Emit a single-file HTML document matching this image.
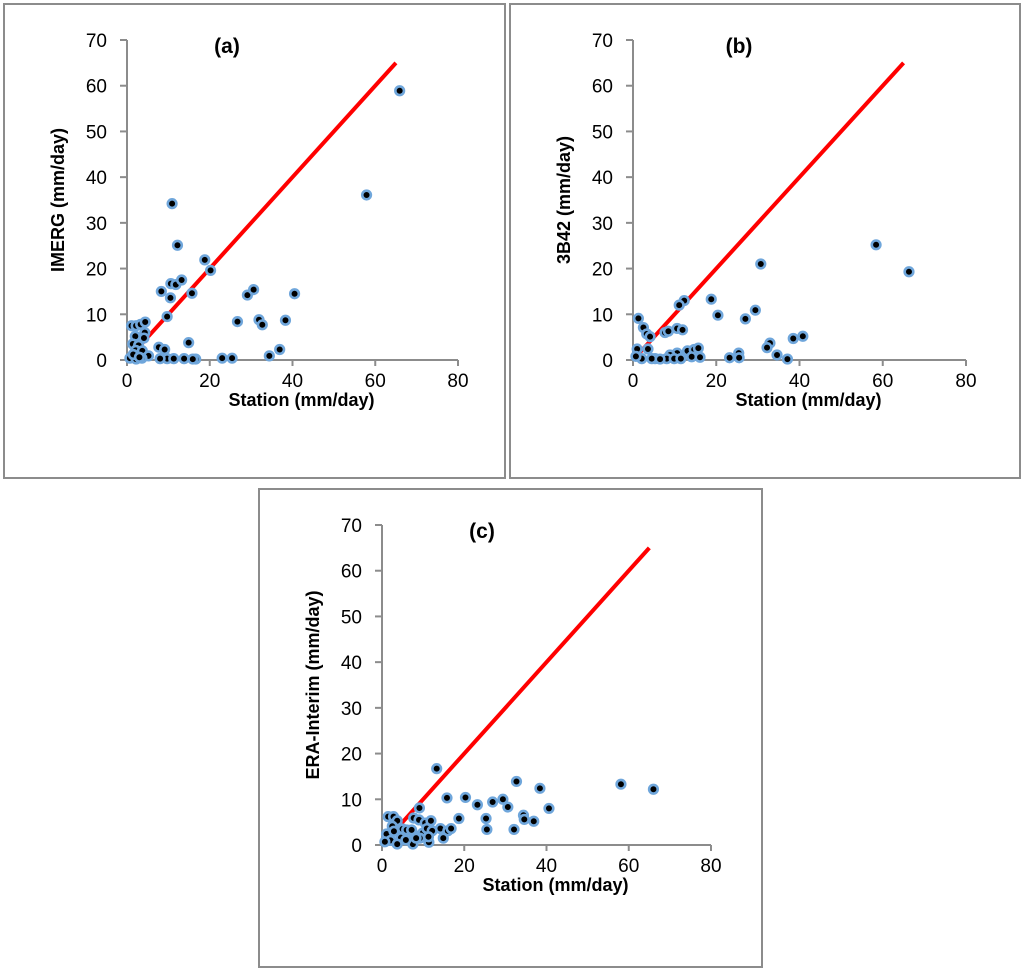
<!DOCTYPE html>
<html><head><meta charset="utf-8">
<style>
html,body{margin:0;padding:0;background:#fff;}
body{width:1024px;height:972px;overflow:hidden;font-family:"Liberation Sans",sans-serif;}
svg text{font-family:"Liberation Sans",sans-serif;}
</style></head>
<body>
<svg id="chart" width="1024" height="972" xmlns="http://www.w3.org/2000/svg"></svg>
<script>
// ---- data ----
const xTicks = [0, 20, 40, 60, 80];
const yTicks = [0, 10, 20, 30, 40, 50, 60, 70];
const lineStart = [1, 1];
const lineEnd = [65, 65];

const aStation = [65.9,57.9,10.9,12.2,18.8,20.2,8.3,10.6,11.8,13.2,10.5,15.7,9.7,29.1,30.6,40.5,26.7,31.9,32.7,38.3,36.9,34.4,14.9,7.7,9.1,23.0,25.4,9.7,11.3,13.8,16.6,15.9,8.0,1.1,2.2,3.3,4.4,2.0,4.3,4.1,1.4,2.8,2.1,3.7,5.2,0.7,2.2,3.6,1.5,3.0];
const aImerg   = [58.9,36.1,34.2,25.1,21.9,19.6,15.0,16.7,16.5,17.5,13.6,14.6,9.5,14.2,15.4,14.5,8.4,8.8,7.7,8.7,2.3,0.9,3.8,2.8,2.3,0.4,0.4,0.3,0.3,0.3,0.2,0.2,0.3,7.5,7.5,7.8,8.3,5.2,6.0,4.8,3.5,3.2,2.1,2.0,0.9,0.4,0.2,0.4,1.2,0.6];

const bStation = [58.4,66.3,30.7,18.8,12.3,11.1,20.4,29.4,27.0,1.3,2.5,3.3,4.1,7.7,8.5,10.6,11.9,32.9,32.2,38.5,40.8,34.6,37.1,23.2,25.4,25.5,1.0,3.6,13.1,14.7,15.7,10.6,8.9,14.1,16.1,5.3,8.1,9.9,11.5,2.1,0.7,4.5,6.5];
const b3B42    = [25.2,19.3,21.0,13.3,13.0,12.0,9.8,10.9,9.0,9.1,7.1,5.7,5.1,6.0,6.3,6.9,6.6,3.7,2.7,4.7,5.2,1.1,0.2,0.5,1.5,0.5,2.4,2.4,2.0,2.3,2.6,1.5,1.1,0.7,0.6,0.3,0.3,0.3,0.3,0.3,0.8,0.3,0.2];

const cStation = [58.1,66.0,13.3,32.7,38.4,15.8,20.3,23.2,26.9,29.4,30.6,40.6,9.1,18.7,25.3,34.4,34.6,36.9,32.1,25.5,14.2,16.0,16.8,14.9,7.7,9.0,10.5,11.9,11.4,7.5,1.5,2.8,3.7,2.5,5.0,6.0,1.1,2.9,2.1,4.6,5.8,7.9,9.9,10.9,12.2,9.2,11.3,8.3,0.7,3.7,7.2];
const cEra     = [13.3,12.2,16.7,13.9,12.4,10.3,10.4,8.8,9.4,10.0,8.3,8.0,8.1,5.8,5.8,6.5,5.6,5.2,3.4,3.4,3.6,3.1,3.6,1.5,5.9,5.5,4.8,5.3,0.6,0.2,6.2,6.2,5.3,4.1,3.5,3.3,2.4,3.0,1.0,1.6,1.1,2.1,2.6,3.6,3.1,1.5,1.8,1.5,0.7,0.2,3.3];

// ---- drawing ----
const NS = "http://www.w3.org/2000/svg";
const svg = document.getElementById('chart');
function mk(tag, attrs, parent) {
  const e = document.createElementNS(NS, tag);
  for (const k in attrs) e.setAttribute(k, attrs[k]);
  (parent || svg).appendChild(e);
  return e;
}

function panel(cfg, xs, ys) {
  const g = mk('g', {});
  
  
  const box = mk('rect', {x: cfg.box[0], y: cfg.box[1], width: cfg.box[2], height: cfg.box[3], fill: '#fff', stroke: '#8c8c8c', 'stroke-width': 2}, g);
  
  
  const sx = v => cfg.x0 + (v - 0) / 80 * (cfg.x80 - cfg.x0);
  const sy = v => cfg.y0 - v / 70 * (cfg.y0 - cfg.y70);
  const ax = mk('line', {x1: cfg.x0, y1: cfg.y0, x2: cfg.x80, y2: cfg.y0, stroke: '#8c8c8c', 'stroke-width': 2}, g);
  
  
  const ay = mk('line', {x1: cfg.x0, y1: cfg.y0, x2: cfg.x0, y2: cfg.y70, stroke: '#8c8c8c', 'stroke-width': 2}, g);
  
  
  xTicks.forEach(t => {
    mk('line', {x1: sx(t), y1: cfg.y0, x2: sx(t), y2: cfg.y0 + 6, stroke: '#8c8c8c', 'stroke-width': 2}, g);
    const tx = mk('text', {x: sx(t), y: cfg.y0 + 27, 'font-size': 19, 'text-anchor': 'middle', fill: '#000'}, g);
    tx.textContent = t;
    
    
  });
  yTicks.forEach(t => {
    mk('line', {x1: cfg.x0 - 7, y1: sy(t), x2: cfg.x0, y2: sy(t), stroke: '#8c8c8c', 'stroke-width': 2}, g);
    const tx = mk('text', {x: cfg.x0 - 20, y: sy(t) + 7, 'font-size': 19, 'text-anchor': 'end', fill: '#000'}, g);
    tx.textContent = t;
    
    
  });
  const xt = mk('text', {x: (cfg.x0 + cfg.x80) / 2 + 9, y: cfg.y0 + 46, 'font-size': 18, 'font-weight': 'bold', 'text-anchor': 'middle'}, g);
  xt.textContent = 'Station (mm/day)';
  
  
  const ycy = (cfg.y0 + cfg.y70) / 2;
  const yx = cfg.x0 - 69;
  const yt = mk('text', {x: yx, y: ycy + 6, 'font-size': 18, 'font-weight': 'bold', 'text-anchor': 'middle', transform: `rotate(-90 ${yx} ${ycy})`}, g);
  yt.textContent = cfg.ytitle;
  
  
  const pt = mk('text', {x: cfg.lx, y: cfg.y70 + 13, 'font-size': 21, 'font-weight': 'bold', 'text-anchor': 'middle'}, g);
  pt.textContent = cfg.label;
  
  
  const ln = mk('line', {x1: sx(lineStart[0]), y1: sy(lineStart[1]), x2: sx(lineEnd[0]), y2: sy(lineEnd[1]), stroke: '#ff0000', 'stroke-width': 4}, g);
  
  
  xs.forEach((v, i) => {
    const c = mk('circle', {cx: sx(v), cy: sy(ys[i]), r: 4.3, fill: '#000', stroke: '#6fa6db', 'stroke-width': 2.6}, g);
    
    
  });
}

panel({name: 'panel-a', box: [4, 4, 501, 474], x0: 127, x80: 458, y0: 360, y70: 40, ytitle: 'IMERG (mm/day)', label: '(a)', lx: 227}, aStation, aImerg);
panel({name: 'panel-b', box: [510, 4, 510, 474], x0: 633, x80: 966, y0: 360, y70: 40, ytitle: '3B42 (mm/day)', label: '(b)', lx: 739}, bStation, b3B42);
panel({name: 'panel-c', box: [259, 489, 503, 478], x0: 382, x80: 711, y0: 845, y70: 525, ytitle: 'ERA-Interim (mm/day)', label: '(c)', lx: 482}, cStation, cEra);
</script>
</body></html>
